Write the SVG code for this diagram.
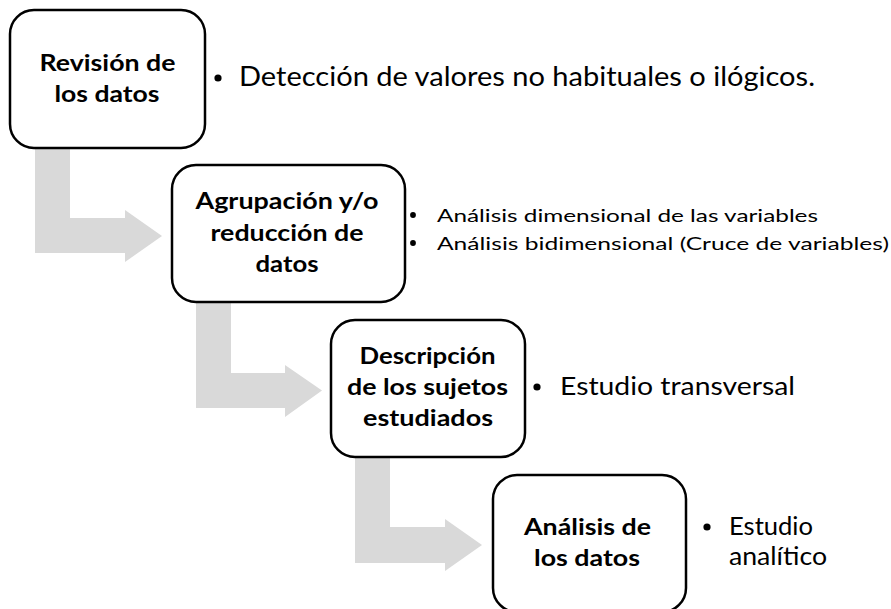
<svg xmlns="http://www.w3.org/2000/svg" width="891" height="609" viewBox="0 0 891 609">
<style>
.box{fill:#fff;stroke:#000;stroke-width:2.5}
.arr{fill:#d9d9d9}
.t{font-family:Lato,"Open Sans","Liberation Sans",sans-serif;font-weight:bold;font-size:23.5px;fill:#000;text-anchor:middle}
.r{font-family:Lato,"Open Sans","Liberation Sans",sans-serif;fill:#000}
.b{fill:#000}
</style>
<rect width="891" height="609" fill="#fff"/>
<g id="connectors">
<polygon class="arr" points="35,148 70,148 70,218 125,218 125,210 162,236 125,262 125,253 35,253"/>
<polygon class="arr" points="196,302 231,302 231,373 285,373 285,365 322,390.5 285,417 285,408 196,408"/>
<polygon class="arr" points="355,457 390,457 390,527 445,527 445,519 482,545 445,571 445,563 355,563"/>
</g>
<g id="node1">
<rect class="box" x="10" y="10" width="195" height="138" rx="24"/>
<text class="t" x="107.5" y="71" textLength="136" lengthAdjust="spacingAndGlyphs">Revisión de</text>
<text class="t" x="107" y="102" textLength="105" lengthAdjust="spacingAndGlyphs">los datos</text>
</g>
<g id="node2">
<rect class="box" x="172" y="165" width="233" height="137" rx="24"/>
<text class="t" x="287" y="209" textLength="183" lengthAdjust="spacingAndGlyphs">Agrupación y/o</text>
<text class="t" x="287" y="241" textLength="153" lengthAdjust="spacingAndGlyphs">reducción de</text>
<text class="t" x="287" y="272" textLength="63" lengthAdjust="spacingAndGlyphs">datos</text>
</g>
<g id="node3">
<rect class="box" x="331" y="320" width="194" height="137" rx="24"/>
<text class="t" x="427.5" y="364" textLength="136" lengthAdjust="spacingAndGlyphs">Descripción</text>
<text class="t" x="427.5" y="395" textLength="161" lengthAdjust="spacingAndGlyphs">de los sujetos</text>
<text class="t" x="428" y="426" textLength="130" lengthAdjust="spacingAndGlyphs">estudiados</text>
</g>
<g id="node4">
<rect class="box" x="493" y="475" width="193" height="137" rx="24"/>
<text class="t" x="587.5" y="535" textLength="127" lengthAdjust="spacingAndGlyphs">Análisis de</text>
<text class="t" x="587" y="566" textLength="106" lengthAdjust="spacingAndGlyphs">los datos</text>
</g>
<g id="notes">
<circle class="b" cx="218" cy="78" r="3.6"/>
<text class="r" x="239" y="86" font-size="26" textLength="576" lengthAdjust="spacingAndGlyphs">Detección de valores no habituales o ilógicos.</text>
<circle class="b" cx="413" cy="215" r="2.9"/>
<text class="r" x="437" y="222" font-size="18" textLength="381" lengthAdjust="spacingAndGlyphs">Análisis dimensional de las variables</text>
<circle class="b" cx="413" cy="243" r="2.9"/>
<text class="r" x="437" y="250" font-size="18" textLength="452" lengthAdjust="spacingAndGlyphs">Análisis bidimensional (Cruce de variables)</text>
<circle class="b" cx="537" cy="387" r="3.6"/>
<text class="r" x="560" y="395" font-size="25.5" textLength="235" lengthAdjust="spacingAndGlyphs">Estudio transversal</text>
<circle class="b" cx="707" cy="527" r="3.6"/>
<text class="r" x="729" y="535" font-size="25.5" textLength="84" lengthAdjust="spacingAndGlyphs">Estudio</text>
<text class="r" x="729" y="565" font-size="25.5" textLength="98" lengthAdjust="spacingAndGlyphs">analítico</text>
</g>
</svg>
